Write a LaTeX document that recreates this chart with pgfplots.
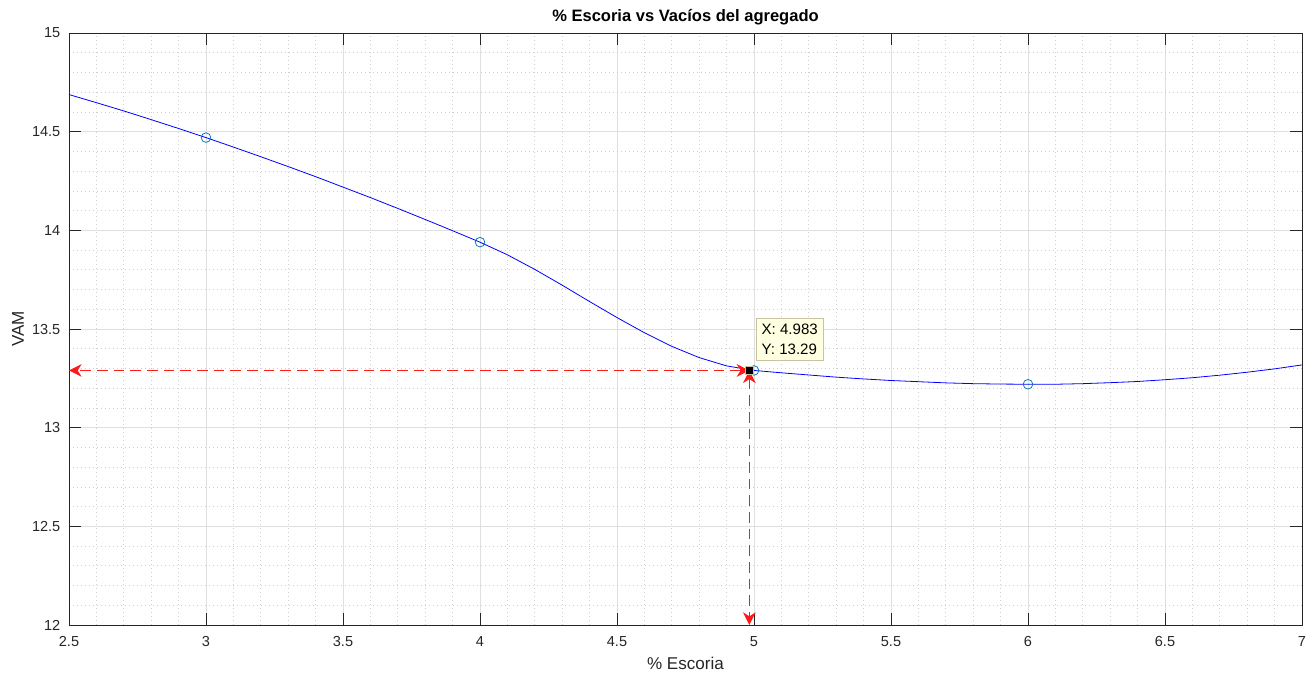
\documentclass[border=0pt]{standalone}
\usepackage{fontspec}
\setmainfont{Liberation Sans}
\usepackage{pgfplots}
\pgfplotsset{compat=1.18}
\usetikzlibrary{arrows.meta}
\definecolor{axcol}{HTML}{262626}
\definecolor{mblue}{HTML}{0072BD}
\definecolor{tipbg}{HTML}{FFFFE1}
\definecolor{tipborder}{HTML}{C8C3A0}
\definecolor{majgrid}{HTML}{DFDFDF}
\definecolor{mingrid}{HTML}{CFCFCF}
\definecolor{arrred}{HTML}{FF1A1A}
\begin{document}
\begin{tikzpicture}
\begin{axis}[
  scale only axis, width=924.75pt, height=444pt,
  xmin=2.5, xmax=7, ymin=12, ymax=15,
  xtick={2.5,3,3.5,4,4.5,5,5.5,6,6.5,7},
  ytick={12,12.5,13,13.5,14,14.5,15},
  minor x tick num=4, minor y tick num=4,
  grid=both,
  major grid style={color=majgrid, line width=0.5pt},
  minor grid style={color=mingrid, line width=0.5pt, dash pattern=on 0.6pt off 2.4pt},
  minor tick length=0pt, major tick length=9pt,
  tick align=inside,
  tick style={color=axcol, line width=0.6pt},
  axis line style={color=axcol, line width=0.6pt},
  /pgf/number format/assume math mode=true,
  ticklabel style={font=\fontsize{10.9}{12}\selectfont, text=axcol},
  xticklabel style={yshift=-5pt},
  yticklabel style={xshift=-3pt},
  xlabel={\% Escoria}, ylabel={VAM},
  title={\textbf{\% Escoria vs Vacíos del agregado}},
  xlabel style={at={(axis description cs:0.5,0)}, anchor=center, yshift=-28.5pt, font=\fontsize{12.8}{14}\selectfont, text=axcol},
  ylabel style={at={(axis description cs:-0.0414,0.5)}, anchor=center, font=\fontsize{12.8}{14}\selectfont, text=axcol},
  title style={at={(axis description cs:0.5,1)}, anchor=center, yshift=5.5pt, font=\fontsize{12.4}{14}\selectfont},
]
% interpolated curve
\addplot[blue, line width=0.6pt, no markers] coordinates {
(2.5,14.688) (2.6,14.647) (2.7,14.605) (2.8,14.561) (2.9,14.516)
(3.0,14.470) (3.1,14.422) (3.2,14.373) (3.3,14.323) (3.4,14.272)
(3.5,14.219) (3.6,14.166) (3.7,14.111) (3.8,14.055) (3.9,13.998)
(4.0,13.940) (4.1,13.876) (4.2,13.802) (4.3,13.722) (4.4,13.639)
(4.5,13.558) (4.6,13.481) (4.7,13.412) (4.8,13.355) (4.9,13.313)
(5.0,13.290) (5.1,13.278) (5.2,13.267) (5.3,13.256) (5.4,13.247)
(5.5,13.239) (5.6,13.233) (5.7,13.227) (5.8,13.223) (5.9,13.221)
(6.0,13.220) (6.1,13.220) (6.2,13.223) (6.3,13.228) (6.4,13.234)
(6.5,13.243) (6.6,13.253) (6.7,13.266) (6.8,13.281) (6.9,13.298)
(7.0,13.318)
};
% data points
\addplot[only marks, mark=o, mark size=3.6pt, mark options={draw=mblue, line width=0.55pt}] coordinates {
(3,14.47) (4,13.94) (5,13.29) (6,13.22)
};
% dashed arrows
\addplot[draw=arrred, line width=0.9pt, dash pattern=on 8pt off 4.5pt,
  {Stealth[length=9.5pt,width=9.5pt,inset=3pt,fill=arrred]}-{Stealth[length=9.5pt,width=9.5pt,inset=3pt,fill=arrred]}]
  coordinates {(4.983,13.29) (4.983,12)};
\addplot[draw=arrred, line width=0.8pt, dash pattern=on 8pt off 4.5pt,
  {Stealth[length=9.5pt,width=9.5pt,inset=3pt,fill=arrred]}-{Stealth[length=9.5pt,width=9.5pt,inset=3pt,fill=arrred]}]
  coordinates {(4.983,13.29) (2.5,13.29)};
% data tip marker
\addplot[only marks, mark=square*, mark size=3.3pt, mark options={fill=black, draw=tipborder, line width=0.6pt}] coordinates {(4.983,13.29)};
\node[anchor=south west, xshift=5pt, yshift=7.5pt, fill=tipbg, draw=tipborder, line width=0.5pt,
  align=left, inner xsep=4pt, inner ysep=4pt, font=\fontsize{11.3}{15}\selectfont]
  at (axis cs:4.983,13.29) {X: 4.983\\Y: 13.29};
\end{axis}
\pgfresetboundingbox
\path[use as bounding box] ([xshift=-51.75pt,yshift=-37.5pt]current axis.south west) rectangle ([xshift=10.5pt,yshift=24.75pt]current axis.north east);
\end{tikzpicture}
\end{document}
